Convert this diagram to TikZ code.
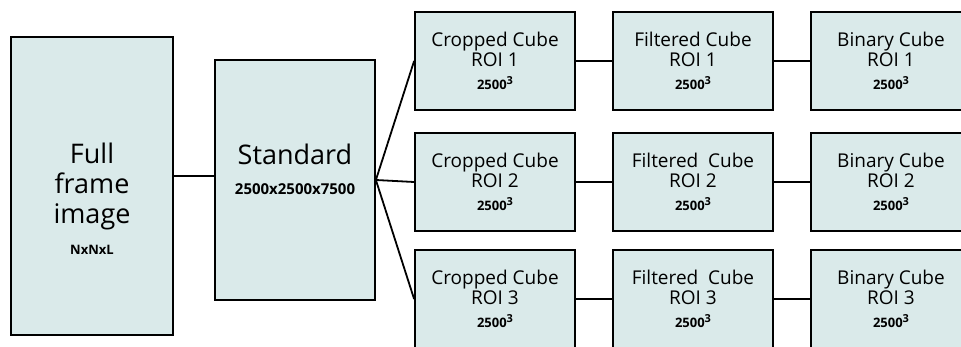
\documentclass[tikz,border=0pt]{standalone}
\usepackage{fontspec}
\setmainfont{Open Sans}
\usepackage{tikz}

\definecolor{boxfill}{HTML}{DAEAEA}
% bold size line under each title
\newcommand{\voxels}[2][13]{{\bfseries\fontsize{#1}{#1}\selectfont #2}}
\newcommand{\cubed}{\raisebox{5.5pt}{\fontsize{11}{11}\selectfont 3}}

\begin{document}
\begin{tikzpicture}[x=1pt, y=1pt, line width=1.8pt, node distance=198pt,
    stage/.style={draw, rectangle, fill=boxfill, inner sep=0pt, align=center},
    cube/.style={stage, minimum width=160pt, minimum height=98pt, font=\fontsize{19}{20}\selectfont},
    bigtext/.style={align=center, font=\fontsize{27}{30}\selectfont}]
    \clip (0,0) rectangle (961,346);

    % Input and standardised volume
    \node [stage, minimum width=162pt, minimum height=298pt,
           label={[name=fulltext, bigtext, yshift=-13pt]center:Full\\frame\\image\\[1pt]\voxels{NxNxL}}] (full) at (92,160) {};
    \node [stage, minimum width=160pt, minimum height=240pt,
           label={[name=stdtext, bigtext, yshift=11pt]center:Standard\\\voxels[15]{2500x2500x7500}}] (std) at (295,166) {};

    % Regions of interest
    \node [cube] (crop1) at (495,285) {Cropped Cube\\ROI 1\\[3pt]\voxels{2500\cubed}};
    \node [cube, right of=crop1] (filt1) {Filtered Cube\\ROI 1\\[3pt]\voxels{2500\cubed}};
    \node [cube, right of=filt1] (bin1) {Binary Cube\\ROI 1\\[3pt]\voxels{2500\cubed}};

    \node [cube, below of=crop1, node distance=121pt] (crop2) {Cropped Cube\\ROI 2\\[3pt]\voxels{2500\cubed}};
    \node [cube, right of=crop2] (filt2) {Filtered\ \ Cube\\ROI 2\\[3pt]\voxels{2500\cubed}};
    \node [cube, right of=filt2] (bin2) {Binary Cube\\ROI 2\\[3pt]\voxels{2500\cubed}};

    \node [cube, below of=crop2, node distance=117pt] (crop3) {Cropped Cube\\ROI 3\\[3pt]\voxels{2500\cubed}};
    \node [cube, right of=crop3] (filt3) {Filtered\ \ Cube\\ROI 3\\[3pt]\voxels{2500\cubed}};
    \node [cube, right of=filt3] (bin3) {Binary Cube\\ROI 3\\[3pt]\voxels{2500\cubed}};

    % Connectors
    \draw ([yshift=4pt]std.west) -- ([yshift=4pt]std.west -| full.east);
    \draw (std.east) -- (crop1.west);
    \draw (std.east) -- (crop2.west);
    \draw (std.east) -- (crop3.west);
    \draw (crop1) -- (filt1);
    \draw (filt1) -- (bin1);
    \draw (crop2) -- (filt2);
    \draw (filt2) -- (bin2);
    \draw (crop3) -- (filt3);
    \draw (filt3) -- (bin3);
\end{tikzpicture}
\end{document}
